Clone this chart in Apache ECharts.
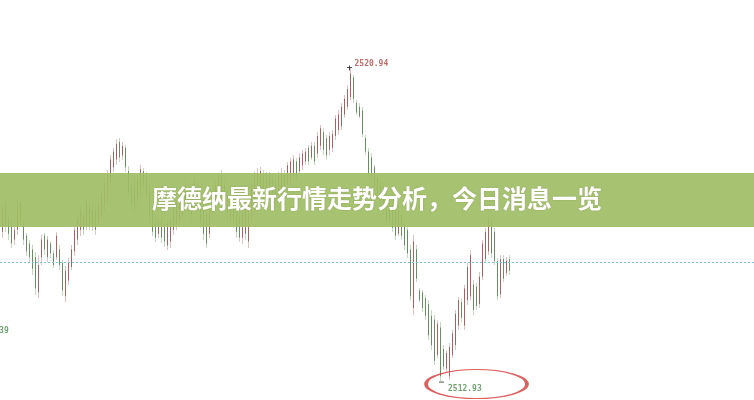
<!DOCTYPE html>
<html><head><meta charset="utf-8">
<script src="https://cdn.jsdelivr.net/npm/echarts@6/dist/echarts.min.js"></script>
<style>html,body{margin:0;padding:0;background:#fff}#c{width:754px;height:400px}</style>
</head><body><div id="c"></div>
<script>
const title = '摩德纳最新行情走势分析，今日消息一览';
const high = [2517.43,2517.56,2517.23,2517.05,2516.92,2517.56,2517.61,2517.05,2516.72,2516.54,
2516.41,2516.23,2516.15,2516.67,2516.72,2516.64,2516.51,2516.28,2516.74,2516.41,
2516.03,2515.87,2516.08,2516.41,2516.92,2517.18,2517.43,2517.25,2517.61,2517.49,
2517.43,2517.43,2517.59,2517.82,2518.15,2518.33,2518.71,2518.89,2519.12,2519.15,
2519.05,2518.97,2518.43,2518.07,2518.00,2518.20,2518.46,2518.38,2518.28,2517.95,
2517.43,2517.10,2517.10,2517.18,2517.08,2517.05,2517.10,2517.43,2517.59,2517.69,
2517.84,2518.07,2517.87,2517.87,2518.13,2518.02,2517.77,2517.56,2517.36,2517.43,
2517.82,2518.07,2518.25,2518.33,2518.07,2517.82,2517.82,2517.69,2517.49,2517.31,
2517.31,2517.56,2517.74,2518.02,2518.28,2518.38,2518.41,2518.33,2518.28,2518.28,
2518.20,2518.13,2518.28,2518.38,2518.33,2518.53,2518.64,2518.71,2518.64,2518.76,
2518.84,2518.89,2518.97,2519.05,2519.05,2519.30,2519.48,2519.40,2519.23,2519.30,
2519.35,2519.74,2519.87,2520.04,2520.25,2520.50,2520.94,2520.76,2520.12,2520.04,
2519.94,2519.23,2518.89,2518.76,2518.46,2518.25,2518.07,2518.00,2517.74,2517.61,
2517.56,2517.49,2517.41,2517.31,2517.05,2516.87,2516.41,2516.67,2516.41,2515.31,
2515.26,2515.13,2515.00,2514.75,2514.62,2514.49,2514.44,2513.85,2513.72,2513.90,
2514.24,2514.75,2515.08,2515.05,2515.39,2515.95,2516.28,2515.51,2515.44,2515.72,
2516.54,2516.85,2517.18,2517.10,2516.85,2516.08,2516.15,2516.15,2516.10,2516.15];
const low = [2516.59,2516.74,2516.54,2516.33,2516.41,2516.67,2516.92,2516.41,2516.13,2515.98,
2515.64,2515.13,2515.05,2515.90,2516.15,2515.98,2516.08,2515.82,2516.03,2515.77,
2515.11,2514.95,2515.39,2515.77,2516.13,2516.41,2516.64,2516.67,2516.79,2516.79,
2516.77,2516.67,2516.90,2517.05,2517.25,2517.43,2517.87,2518.28,2518.46,2518.53,
2518.59,2518.28,2517.61,2517.31,2517.23,2517.43,2517.61,2517.82,2517.56,2516.92,
2516.64,2516.49,2516.59,2516.46,2516.36,2516.28,2516.33,2516.67,2516.79,2516.92,
2517.05,2517.25,2517.25,2517.05,2517.36,2517.18,2516.85,2516.54,2516.33,2516.59,
2517.05,2517.31,2517.51,2517.43,2517.25,2517.05,2516.95,2516.85,2516.59,2516.49,
2516.44,2516.54,2516.33,2516.92,2517.10,2517.25,2517.43,2517.56,2517.43,2517.56,
2517.61,2517.43,2517.56,2517.69,2517.77,2517.87,2517.95,2518.07,2518.02,2518.20,
2518.33,2518.46,2518.46,2518.59,2518.46,2518.64,2518.84,2518.71,2518.59,2518.71,
2518.79,2519.10,2519.23,2519.35,2519.66,2519.87,2520.12,2520.04,2519.74,2519.66,
2519.17,2518.71,2518.13,2518.07,2517.82,2517.56,2517.41,2517.25,2516.97,2516.92,
2516.74,2516.54,2516.64,2516.54,2516.28,2516.08,2515.00,2514.62,2515.46,2514.95,
2514.70,2514.49,2513.98,2513.72,2513.34,2513.52,2512.93,2513.21,2513.16,2512.96,
2513.52,2513.72,2514.24,2514.44,2514.24,2514.88,2515.00,2514.62,2514.75,2514.80,
2515.51,2515.98,2516.15,2516.08,2515.90,2515.00,2515.05,2515.46,2515.62,2515.64];
const open = [2516.75,2517.40,2517.10,2516.90,2516.55,2516.80,2517.50,2516.95,2516.65,2516.45,
2516.30,2516.10,2515.20,2516.10,2516.65,2516.10,2516.45,2516.20,2516.10,2516.30,
2515.95,2515.10,2515.50,2515.85,2516.25,2516.55,2516.80,2517.15,2516.90,2517.40,
2516.90,2517.30,2517.00,2517.20,2517.40,2517.60,2518.00,2518.40,2518.60,2519.05,
2518.70,2518.90,2518.30,2517.90,2517.40,2517.60,2517.80,2518.30,2518.15,2517.80,
2517.30,2517.00,2516.70,2517.05,2516.95,2516.40,2516.50,2516.80,2516.95,2517.05,
2517.20,2517.40,2517.75,2517.75,2517.50,2517.90,2517.60,2517.40,2517.20,2516.70,
2517.20,2517.45,2517.65,2518.20,2517.95,2517.70,2517.10,2517.55,2517.35,2517.15,
2516.60,2516.70,2516.50,2517.10,2517.30,2517.45,2517.60,2518.20,2518.10,2517.70,
2518.10,2518.00,2517.70,2517.85,2518.20,2518.00,2518.10,2518.20,2518.55,2518.30,
2518.45,2518.55,2518.90,2518.65,2518.95,2518.75,2518.95,2519.30,2519.15,2518.85,
2518.90,2519.20,2519.35,2519.45,2519.75,2519.95,2520.20,2520.70,2520.05,2519.95,
2519.85,2519.15,2518.80,2518.65,2518.40,2518.15,2518.00,2517.35,2517.65,2517.50,
2517.45,2517.40,2516.70,2517.20,2516.95,2516.80,2516.30,2514.80,2516.30,2515.25,
2515.20,2515.05,2514.90,2514.60,2514.50,2513.60,2514.30,2513.75,2513.25,2513.05,
2513.60,2513.85,2514.35,2514.95,2514.35,2515.00,2515.10,2515.40,2515.35,2514.90,
2515.60,2516.05,2516.25,2517.00,2516.75,2516.00,2515.15,2516.05,2515.70,2516.05];
const close = [2517.30,2516.90,2516.70,2516.45,2516.80,2517.40,2517.05,2516.55,2516.25,2516.10,
2515.80,2515.30,2515.90,2516.55,2516.30,2516.55,2516.20,2515.90,2516.65,2515.90,
2515.25,2515.75,2515.95,2516.30,2516.80,2517.05,2517.30,2516.80,2517.50,2516.90,
2517.30,2516.80,2517.45,2517.70,2518.00,2518.20,2518.60,2518.80,2519.00,2518.65,
2518.95,2518.40,2517.75,2517.45,2517.90,2518.10,2518.35,2517.95,2517.70,2517.10,
2516.75,2516.60,2517.00,2516.60,2516.50,2516.95,2517.00,2517.30,2517.45,2517.60,
2517.75,2517.95,2517.40,2517.20,2518.00,2517.30,2517.00,2516.70,2516.45,2517.30,
2517.70,2517.95,2518.15,2517.60,2517.40,2517.20,2517.65,2517.00,2516.75,2516.60,
2517.20,2517.40,2517.60,2517.90,2518.15,2518.25,2518.30,2517.70,2517.55,2518.15,
2517.75,2517.55,2518.15,2518.25,2517.90,2518.45,2518.55,2518.60,2518.15,2518.65,
2518.75,2518.80,2518.55,2518.95,2518.55,2519.20,2519.40,2518.85,2518.70,2519.20,
2519.25,2519.65,2519.75,2519.95,2520.15,2520.40,2520.80,2520.15,2519.80,2519.70,
2519.25,2518.80,2518.20,2518.15,2517.90,2517.65,2517.50,2517.90,2517.05,2517.00,
2516.85,2516.65,2517.30,2516.65,2516.40,2516.20,2515.10,2516.50,2515.55,2515.00,
2514.80,2514.60,2514.10,2513.85,2513.45,2514.40,2513.05,2513.30,2513.65,2513.80,
2514.15,2514.65,2515.00,2514.55,2515.30,2515.85,2516.15,2514.75,2514.85,2515.60,
2516.45,2516.75,2517.05,2516.20,2516.00,2515.10,2516.05,2515.55,2516.00,2515.75];
const refLevel = 2515.98;
const peakLabel = '2520.94', lowLabel = '2512.93', prevLowLabel = '2514.39';
const prevLowValue = 2514.39;
const peakIdx = 116, lowIdx = 146, prevLowIdx = -10;

const data = high.map((h, i) => [i, open[i], close[i], low[i], h]);
const chart = echarts.init(document.getElementById('c'), null, {renderer: 'canvas'});
const COL = {upDark: '#ad5f5f', upPale: '#e2c0c0', dnDark: '#62905e', dnPale: '#c2dabe'};
chart.setOption({
  animation: false,
  grid: {left: 0, right: 0, top: 0, bottom: 0},
  xAxis: {type: 'value', min: -0.5, max: 250.83, show: false},
  yAxis: {type: 'value', min: 2512.445, max: 2522.68, show: false, scale: true},
  series: [
    {
      type: 'line', data: [], silent: true,
      markLine: {
        silent: true, symbol: 'none', label: {show: false},
        lineStyle: {color: '#7fc4d6', type: [2, 2], width: 1},
        data: [{yAxis: refLevel}]
      }
    },
    {
      type: 'custom', data: data, clip: false,
      encode: {x: 0, y: [1, 2, 3, 4]},
      renderItem: function (params, api) {
        const i = api.value(0);
        const o = api.value(1), c = api.value(2), l = api.value(3), h = api.value(4);
        const pH = api.coord([i, h]), pL = api.coord([i, l]);
        const pO = api.coord([i, o]), pC = api.coord([i, c]);
        const x = Math.round(pH[0]) + 0.5;
        const up = c >= o;
        return {
          type: 'group',
          children: [
            {type: 'line', shape: {x1: x, y1: pH[1], x2: x, y2: pL[1]},
             style: {stroke: up ? COL.upPale : COL.dnPale, lineWidth: 1}},
            {type: 'line', shape: {x1: x, y1: pO[1], x2: x, y2: pC[1]},
             style: {stroke: up ? COL.upDark : COL.dnDark, lineWidth: 1}}
          ]
        };
      }
    },
    {
      type: 'scatter', clip: false, silent: true,
      data: [
        {value: [peakIdx, high[peakIdx]], symbol: 'path://M0,2H5M2.5,0V5', symbolSize: 5,
         itemStyle: {color: 'none', borderColor: '#222', borderWidth: 1},
         label: {show: true, formatter: peakLabel, position: 'right', offset: [-5, -4], color: '#b04848'}},
        {value: [lowIdx, low[lowIdx]], symbol: 'rect', symbolSize: [5, 1], symbolOffset: [2, 1],
         itemStyle: {color: '#222'},
         label: {show: true, formatter: lowLabel, position: 'right', offset: [-1, 7], color: '#4e8c4e'}},
        {value: [prevLowIdx, prevLowValue], symbol: 'circle', symbolSize: 1,
         itemStyle: {color: 'rgba(0,0,0,0)'},
         label: {show: true, formatter: prevLowLabel, position: 'right', offset: [-2, 7], color: '#4e8c4e'}}
      ],
      label: {fontFamily: 'DejaVu Sans Mono', fontSize: 8, fontWeight: 'bold'}
    },
    {
      type: 'scatter', clip: false, silent: true, z: 5,
      data: [[lowIdx, low[lowIdx]]],
      symbol: 'circle', symbolSize: [101, 29], symbolOffset: [37, 3],
      itemStyle: {color: 'rgba(0,0,0,0)', borderColor: '#d33a3a', borderWidth: 2}
    }
  ],
  graphic: [
    {type: 'rect', left: 0, top: 173, z: 100, shape: {width: 754, height: 54},
     style: {fill: 'rgba(160,189,102,0.93)'}},
    {type: 'text', left: 'center', top: 186, z: 101,
     style: {text: title, fill: '#ffffff', font: 'bold 25px "Noto Sans CJK SC"',
       textShadowColor: 'rgba(0,0,0,0.15)', textShadowBlur: 2}}
  ]
});
</script></body></html>
